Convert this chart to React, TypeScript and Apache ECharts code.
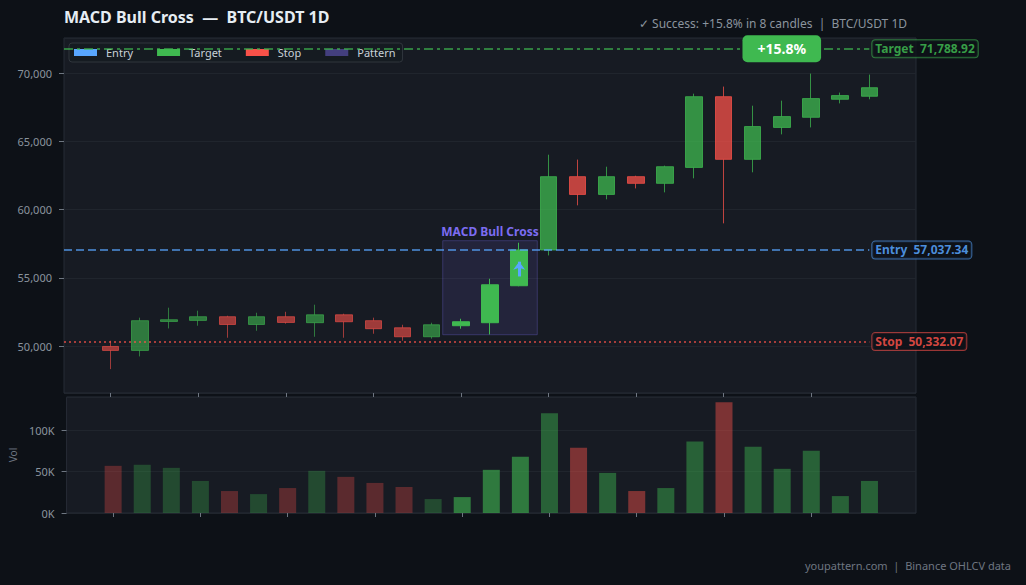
import React, { useEffect, useRef } from "react";
import * as echarts from "echarts";

// ---- data ----
const opens = [49970, 49680, 51800, 51880, 52150, 51580, 52150, 51710, 52290, 51860, 51340, 50680, 51490, 51710, 54420, 57040, 62410, 61110, 62410, 61920, 63090, 68270, 63680, 66020, 66760, 68080, 68300];
const closes = [49680, 51860, 51930, 52150, 51580, 52150, 51730, 52290, 51780, 51270, 50680, 51560, 51780, 54490, 57037.34, 62410, 61110, 62410, 61920, 63140, 68270, 63680, 66080, 66810, 68130, 68350, 68930];
const lows = [48310, 49240, 51290, 51490, 50610, 51120, 51640, 50680, 50610, 50900, 50390, 50540, 51270, 50850, 54380, 56640, 60310, 60750, 61550, 61260, 62290, 58990, 62730, 65510, 66020, 67780, 68080];
const highs = [50390, 52080, 52810, 52590, 52220, 52440, 52510, 53030, 52370, 52080, 51560, 51710, 52000, 54930, 57570, 64020, 63660, 63140, 62480, 63220, 68490, 69010, 67610, 67980, 69960, 68570, 69890];
const volumes = [56900, 58200, 54500, 38700, 26500, 22800, 30100, 50900, 43600, 36300, 31400, 16800, 19200, 52100, 67900, 120400, 78900, 48400, 26500, 30100, 86200, 133800, 80100, 53300, 75200, 20400, 38700];
const tickIndexes = [0, 3, 6, 9, 12, 15, 18, 21, 24];
const legendNames = ["Entry", "Target", "Stop", "Pattern"];

const ENTRY = 57037.34;
const TARGET = 71788.92;
const STOP = 50332.07;
const PATTERN_START = 12;
const PATTERN_END = 14;
const PATTERN_LOW = 50830;
const PATTERN_HIGH = 57720;
const ARROW_FROM = 55100;
const ARROW_TO = 56180;
const BADGE_INDEX = 23;
const GAIN_TEXT = "+15.8%";

// ---- styling ----
const UP = "#3fb950";
const DOWN = "#f85149";
const BLUE = "#58a6ff";
const PURPLE = "#7c6cf0";
const FONT = "Noto Sans";
const X_MIN = -1.6;
const X_MAX = 27.6;
const PAD = 0.62;

const fmt2 = (v: number) =>
  v.toLocaleString("en-US", { minimumFractionDigits: 2, maximumFractionDigits: 2 });

function phase(i: number) {
  return i < PATTERN_START ? "pre" : i <= PATTERN_END ? "pattern" : "post";
}
const candleOpacity: Record<string, number> = { pre: 0.6, pattern: 1, post: 0.75 };
const volOpacity: Record<string, number> = { pre: 0.3, pattern: 0.6, post: 0.45 };

function endLabel(text: string, color: string, border: string) {
  return {
    show: true,
    position: "end",
    distance: 3,
    formatter: text,
    color,
    fontFamily: FONT,
    fontSize: 12,
    fontWeight: "bold",
    backgroundColor: "rgba(13,17,23,0.9)",
    borderColor: border,
    borderWidth: 1,
    borderRadius: 3,
    padding: [3, 3, 2, 3],
  };
}

export default function App() {
  const ref = useRef<HTMLDivElement>(null);

  useEffect(() => {
    if (!ref.current) return;
    const chart = echarts.init(ref.current, null, { renderer: "svg" });
    const last = opens.length - 1;

    const candleData = opens.map((o, i) => ({
      value: [i, o, closes[i], lows[i], highs[i]],
      itemStyle: { opacity: candleOpacity[phase(i)] },
    }));
    const volData = volumes.map((v, i) => {
      const up = closes[i] >= opens[i];
      return {
        value: [i, v],
        itemStyle: { color: up ? UP : DOWN, opacity: volOpacity[phase(i)] },
      };
    });

    const tickStyle = { color: "#6e7681" };

    chart.setOption({
      animation: false,
      backgroundColor: "#0d1117",
      textStyle: { fontFamily: FONT },
      title: [
        {
          text: "MACD Bull Cross  —  BTC/USDT 1D",
          left: 59,
          top: 4,
          textStyle: { color: "#e6edf3", fontSize: 16, fontWeight: "bold", fontFamily: FONT },
        },
        {
          text: "✓ Success: +15.8% in 8 candles  |  BTC/USDT 1D",
          right: 114,
          top: 12,
          textStyle: { color: "#8b949e", fontSize: 12, fontWeight: "normal", fontFamily: FONT },
        },
        {
          text: "youpattern.com  |  Binance OHLCV data",
          right: 10,
          top: 555,
          textStyle: { color: "#6e7681", fontSize: 11, fontWeight: "normal", fontFamily: FONT },
        },
      ],
      legend: {
        data: legendNames,
        left: 69,
        top: 43,
        icon: "rect",
        itemWidth: 23,
        itemHeight: 7,
        itemGap: 24,
        padding: [4, 7, 4, 5],
        selectedMode: false,
        backgroundColor: "rgba(22,27,34,0.92)",
        borderColor: "#30363d",
        borderWidth: 1,
        borderRadius: 3,
        textStyle: { color: "#c9d1d9", fontSize: 11, fontFamily: FONT, padding: [0, 0, 0, 4] },
      },
      grid: [
        {
          left: 64, right: 110, top: 38, bottom: 192,
          show: true, backgroundColor: "#171b23", borderColor: "#262c36", borderWidth: 1,
        },
        {
          left: 64, right: 110, top: 397, bottom: 72,
          show: true, backgroundColor: "#171b23", borderColor: "#262c36", borderWidth: 1,
        },
      ],
      xAxis: [0, 1].map((g) => ({
        type: "value",
        gridIndex: g,
        min: X_MIN,
        max: X_MAX,
        position: "bottom",
        axisLine: { show: false, onZero: false },
        axisLabel: { show: false },
        splitLine: { show: false },
        axisTick: { show: true, length: 4, lineStyle: tickStyle, customValues: tickIndexes },
      })),
      yAxis: [
        {
          type: "value",
          gridIndex: 0,
          min: 46560,
          max: 72570,
          position: "left",
          axisLine: { show: false, onZero: false },
          axisTick: { show: true, length: 5, lineStyle: tickStyle },
          axisLabel: {
            color: "#8b949e",
            fontSize: 11,
            margin: 12,
            showMinLabel: false,
            showMaxLabel: false,
            formatter: (v: number) => v.toLocaleString("en-US"),
          },
          splitLine: { lineStyle: { color: "#20252d" } },
        },
        {
          type: "value",
          gridIndex: 1,
          min: 0,
          max: 140000,
          interval: 50000,
          position: "left",
          name: "Vol",
          nameLocation: "middle",
          nameGap: 46,
          nameRotate: 90,
          nameTextStyle: { color: "#6e7681", fontSize: 10 },
          axisLine: { show: false, onZero: false },
          axisTick: { show: true, length: 5, lineStyle: tickStyle },
          axisLabel: {
            color: "#8b949e",
            fontSize: 11,
            margin: 12,
            showMaxLabel: false,
            formatter: (v: number) => `${Math.round(v / 1000)}K`,
          },
          splitLine: { lineStyle: { color: "#20252d" } },
        },
      ],
      series: [
        {
          name: "Pattern",
          type: "line",
          color: "rgba(124,108,240,0.45)",
          data: [],
          xAxisIndex: 0,
          yAxisIndex: 0,
          markArea: {
            silent: true,
            itemStyle: {
              color: "rgba(124,108,240,0.12)",
              borderColor: "rgba(124,108,240,0.3)",
              borderWidth: 1,
            },
            label: {
              show: true,
              position: "top",
              distance: 3,
              formatter: "MACD Bull Cross",
              color: PURPLE,
              fontSize: 12,
              fontWeight: "bold",
              fontFamily: FONT,
            },
            data: [
              [
                { coord: [PATTERN_START - PAD, PATTERN_HIGH] },
                { coord: [PATTERN_END + PAD, PATTERN_LOW] },
              ],
            ],
          },
        },
        {
          name: "Price",
          type: "candlestick",
          xAxisIndex: 0,
          yAxisIndex: 0,
          barWidth: 17,
          itemStyle: {
            color: UP,
            color0: DOWN,
            borderColor: UP,
            borderColor0: DOWN,
            borderWidth: 1,
          },
          data: candleData,
        },
        {
          name: "Volume",
          type: "bar",
          xAxisIndex: 1,
          yAxisIndex: 1,
          barWidth: 17,
          data: volData,
        },
        {
          name: "Target",
          type: "line",
          color: UP,
          data: [],
          xAxisIndex: 0,
          yAxisIndex: 0,
          markLine: {
            silent: true,
            symbol: ["none", "none"],
            lineStyle: { color: UP, width: 1.5, type: [9, 4, 3, 4], opacity: 0.85 },
            label: endLabel(`Target  ${fmt2(TARGET)}`, UP, "rgba(63,185,80,0.7)"),
            data: [[{ coord: [X_MIN, TARGET] }, { coord: [last, TARGET] }]],
          },
          markPoint: {
            silent: true,
            data: [
              {
                coord: [BADGE_INDEX, TARGET],
                symbol: "rect",
                symbolSize: 1,
                itemStyle: { color: "rgba(0,0,0,0)" },
                label: {
                  show: true,
                  position: "inside",
                  formatter: GAIN_TEXT,
                  color: "#ffffff",
                  fontSize: 14,
                  fontWeight: "bold",
                  fontFamily: FONT,
                  backgroundColor: UP,
                  borderRadius: 5,
                  lineHeight: 18,
                  padding: [5, 15, 4, 15],
                },
              },
            ],
          },
        },
        {
          name: "Stop",
          type: "line",
          color: DOWN,
          data: [],
          xAxisIndex: 0,
          yAxisIndex: 0,
          markLine: {
            silent: true,
            symbol: ["none", "none"],
            lineStyle: { color: DOWN, width: 1.5, type: [2, 3], opacity: 0.85 },
            label: endLabel(`Stop  ${fmt2(STOP)}`, DOWN, "rgba(248,81,73,0.7)"),
            data: [[{ coord: [X_MIN, STOP] }, { coord: [last, STOP] }]],
          },
        },
        {
          name: "Entry",
          type: "line",
          color: BLUE,
          data: [],
          xAxisIndex: 0,
          yAxisIndex: 0,
          markLine: {
            silent: true,
            symbol: ["none", "none"],
            lineStyle: { color: BLUE, width: 1.5, type: [8, 4], opacity: 0.85 },
            label: endLabel(`Entry  ${fmt2(ENTRY)}`, BLUE, "rgba(88,166,255,0.7)"),
            data: [
              [{ coord: [X_MIN, ENTRY] }, { coord: [last, ENTRY] }],
              [
                {
                  coord: [PATTERN_END, ARROW_FROM],
                  symbol: "none",
                  lineStyle: { color: BLUE, width: 3, type: "solid", opacity: 1 },
                  label: { show: false },
                },
                { coord: [PATTERN_END, ARROW_TO], symbol: "arrow", symbolSize: [9, 8] },
              ],
            ],
          },
        },
      ],
    });

    return () => chart.dispose();
  }, []);

  return (
    <div
      ref={ref}
      style={{ position: "fixed", left: 0, top: 0, width: 1026, height: 585 }}
    />
  );
}
